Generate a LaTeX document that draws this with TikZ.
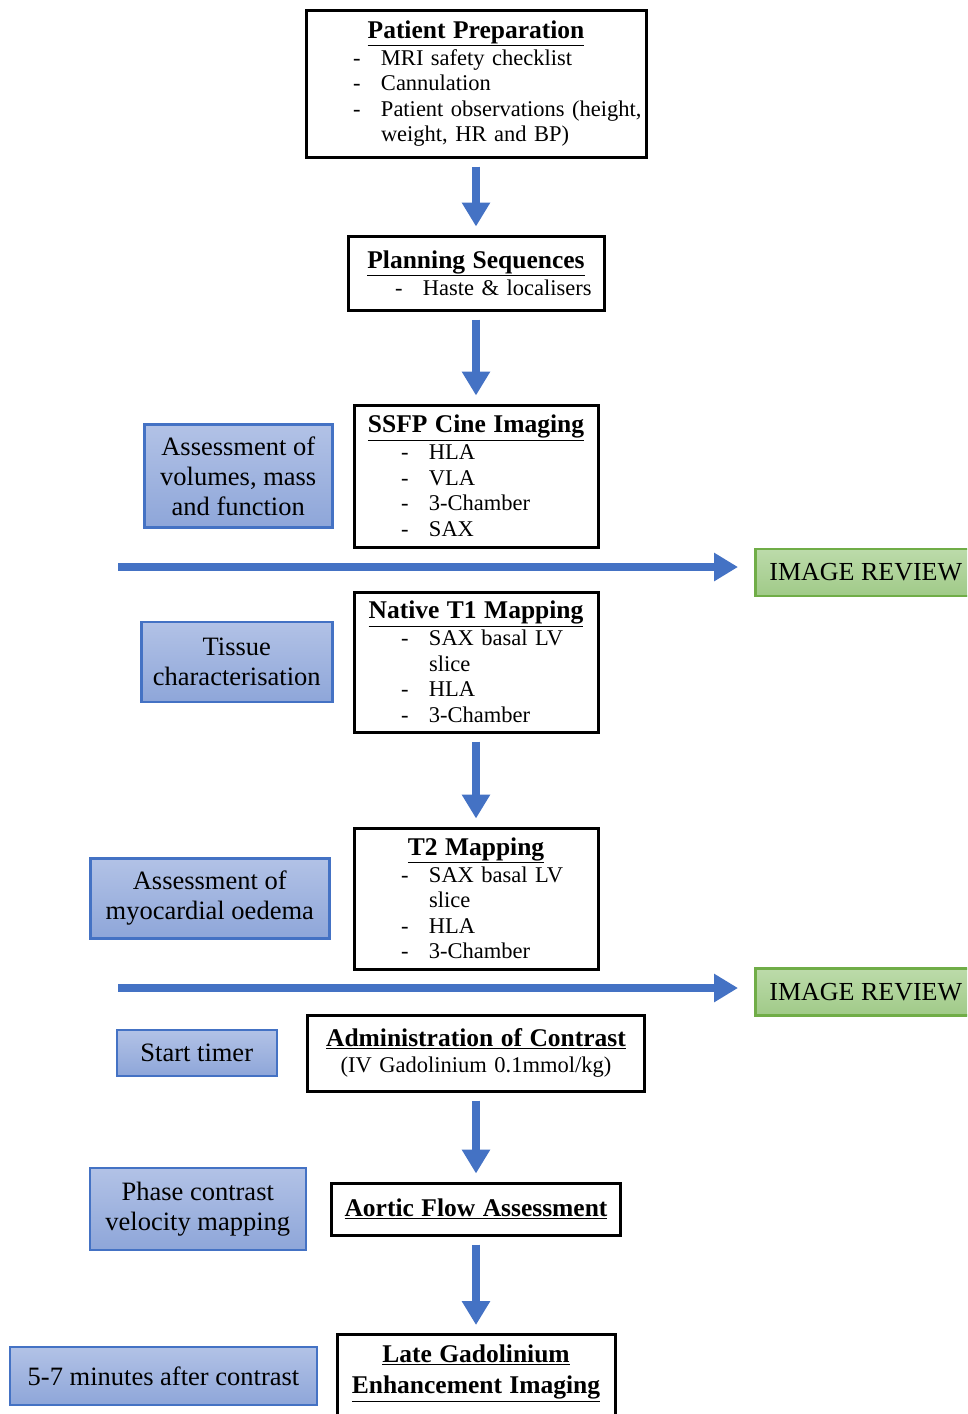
\documentclass[tikz,border=0pt]{standalone}
\usepackage{fontspec}
\setmainfont{Liberation Serif}
\usetikzlibrary{arrows.meta, positioning}

\definecolor{flowblue}{HTML}{4472C4}
\definecolor{sidetop}{HTML}{B2C2E6}
\definecolor{sidebot}{HTML}{8EA6D9}
\definecolor{revtop}{HTML}{BCDBAA}
\definecolor{revbot}{HTML}{A0CA88}
\definecolor{revedge}{HTML}{70AD47}

\newcommand{\bodyfont}{\fontsize{22.5}{25.5}\selectfont}
\newcommand{\sidefont}{\fontsize{26.5}{30}\selectfont}
\newcommand{\stephead}[1]{\underline{\textbf{\fontsize{25.5}{25.5}\selectfont #1}}}
\newcommand{\headline}[1]{\makebox[\linewidth]{\stephead{#1}}}
\newcommand{\itm}[1]{\hspace*{47pt}\makebox[28pt][l]{-}#1}
\newcommand{\cont}[1]{\hspace*{75pt}#1}

\begin{document}
\begin{tikzpicture}[
  x=1pt, y=-1pt,
  stepbox/.style={
    draw=black, line width=3pt, fill=white,
    inner xsep=0pt, inner ysep=6pt,
    align=left, font=\bodyfont
  },
  sidebox/.style={
    draw=flowblue, line width=2.5pt,
    top color=sidetop, bottom color=sidebot,
    inner sep=0pt, align=center, font=\sidefont
  },
  reviewbox/.style={
    draw=revedge, line width=2.5pt,
    top color=revtop, bottom color=revbot,
    minimum width=221pt, minimum height=47pt,
    font=\fontsize{26}{30}\selectfont
  },
  flow/.style={draw=flowblue, line width=8pt,
    -{Triangle[width=27pt,length=24pt]},
    shorten <=8pt, shorten >=8pt}
]
\useasboundingbox (0,0) rectangle (967,1414);
\clip (0,0) rectangle (967,1414);

% main column
\node[stepbox, text width=340pt, minimum height=147pt] (prep) at (476,83.5)
  {\headline{Patient Preparation}\\[1.5pt] \itm{MRI safety checklist}\\
   \itm{Cannulation}\\ \itm{Patient observations (height,}\\
   \cont{weight, HR and BP)}};
\node[stepbox, text width=256pt, minimum height=74pt] (plan) at (476,273)
  {\headline{Planning Sequences}\\[1.5pt] \itm{Haste \& localisers}};
\node[stepbox, text width=244pt, minimum height=142pt] (ssfp) at (476,476)
  {\headline{SSFP Cine Imaging}\\[1.5pt] \itm{HLA}\\ \itm{VLA}\\
   \itm{3-Chamber}\\ \itm{SAX}};
\node[stepbox, text width=244pt, minimum height=140pt] (native) at (476,662)
  {\headline{Native T1 Mapping}\\[1.5pt] \itm{SAX basal LV}\\ \cont{slice}\\
   \itm{HLA}\\ \itm{3-Chamber}};
\node[stepbox, text width=244pt, minimum height=141pt] (t2map) at (476,898.5)
  {\headline{T2 Mapping}\\[1.5pt] \itm{SAX basal LV}\\ \cont{slice}\\
   \itm{HLA}\\ \itm{3-Chamber}};
\node[stepbox, align=center, text width=337pt, minimum height=76pt] (contrast) at (476,1053)
  {\stephead{Administration of Contrast}\\ (IV Gadolinium 0.1mmol/kg)};
\node[stepbox, align=center, text width=289pt, minimum height=52pt] (aortic) at (476,1209)
  {\stephead{Aortic Flow Assessment}};
\node[stepbox, align=center, text width=278pt, inner ysep=10pt,
      anchor=north, text depth=70pt] (lge) at (476,1333)
  {\stephead{Late Gadolinium}\\[6pt] \stephead{Enhancement Imaging}};

% side notes
\node[sidebox, minimum width=188pt, minimum height=103pt, left=19pt of ssfp] (volumes)
  {Assessment of\\ volumes, mass\\ and function};
\node[sidebox, minimum width=191pt, minimum height=80pt, left=19pt of native] (tissue)
  {Tissue\\ characterisation};
\node[sidebox, minimum width=239pt, minimum height=80pt, left=22pt of t2map] (oedema)
  {Assessment of\\ myocardial oedema};
\node[sidebox, minimum width=160pt, minimum height=46pt, left=28pt of contrast] (timer)
  {Start timer};
\node[sidebox, minimum width=216pt, minimum height=82pt, left=23pt of aortic] (phase)
  {Phase contrast\\ velocity mapping};
\node[sidebox, minimum width=307pt, minimum height=58pt] (delay) at (163.5,1376)
  {5-7 minutes after contrast};

% review points
\coordinate (cut1) at (118,567);
\node[reviewbox, anchor=west] (review1) at (754,572.5) {IMAGE REVIEW};
\coordinate (cut2) at (118,988);
\node[reviewbox, anchor=west] (review2) at (754,992) {IMAGE REVIEW};

\draw[flow] (prep) -- (plan);
\draw[flow] (plan) -- (ssfp);
\draw[flow] (native) -- (t2map);
\draw[flow] (contrast) -- (aortic);
\draw[flow] (aortic) -- (lge);
\draw[flow, shorten <=0pt, shorten >=16pt] (cut1) -- (cut1 -| review1.west);
\draw[flow, shorten <=0pt, shorten >=16pt] (cut2) -- (cut2 -| review2.west);
\end{tikzpicture}
\end{document}
